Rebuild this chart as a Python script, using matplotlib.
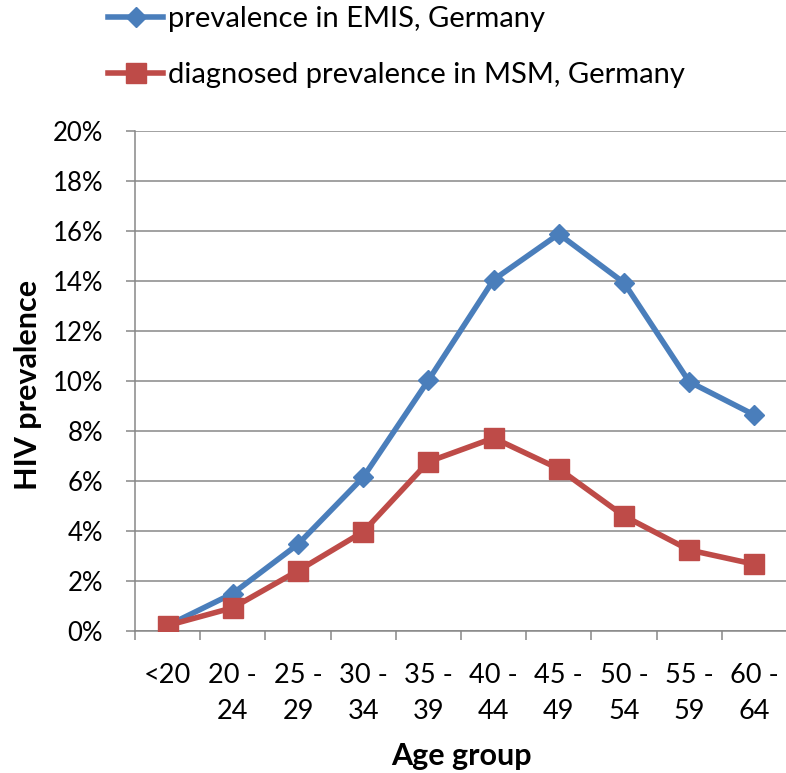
import matplotlib
matplotlib.use("Agg")
import matplotlib.pyplot as plt
from matplotlib.ticker import FuncFormatter

categories = ["<20", "20 -\n24", "25 -\n29", "30 -\n34", "35 -\n39", "40 -\n44",
              "45 -\n49", "50 -\n54", "55 -\n59", "60 -\n64"]
emis = [0.22, 1.5, 3.47, 6.15, 10.03, 14.05, 15.88, 13.93, 9.97, 8.64]
diagnosed = [0.22, 0.93, 2.41, 3.97, 6.77, 7.72, 6.49, 4.6, 3.24, 2.67]
series_names = ["prevalence in EMIS, Germany", "diagnosed prevalence in MSM, Germany"]
yticks = [0, 2, 4, 6, 8, 10, 12, 14, 16, 18, 20]

plt.rcParams['font.family'] = ['Lato', 'DejaVu Sans']

W, H = 786, 773
PX = 72 / 100  # points per pixel
fig = plt.figure(figsize=(W / 100, H / 100), dpi=100)
ax = fig.add_axes([135 / W, (H - 631) / H, (787 - 135) / W, 500 / H])

blue = "#4a7ebb"
red = "#be4b48"
grid_c = "#878787"
x = list(range(len(categories)))
ax.plot(x, emis, color=blue, lw=4, marker="D", ms=10.5, mfc=blue, mec=blue,
        label=series_names[0], solid_joinstyle="round", zorder=3)
ax.plot(x, diagnosed, color=red, lw=4, marker="s", ms=14.5, mfc=red, mec=red,
        label=series_names[1], solid_joinstyle="round", zorder=4)

ax.set_xlim(-0.5, len(categories) - 0.5)
ax.set_ylim(0, 20)
ax.set_yticks(yticks)
ax.yaxis.set_major_formatter(FuncFormatter(lambda v, p: f"{v:.0f}%"))
ax.set_xticks([i - 0.5 for i in range(len(categories) + 1)], minor=False)
ax.set_xticklabels([])
ax.set_xticks(x, minor=True)
ax.set_xticklabels(categories, minor=True, fontsize=19.5, linespacing=1.55,
                   multialignment="center")
ax.tick_params(axis="x", which="major", length=9 * PX, color=grid_c, width=1.1)
ax.tick_params(axis="x", which="minor", length=0, pad=32 * PX)
ax.tick_params(axis="y", length=9 * PX, color=grid_c, width=1.1, labelsize=18.5,
               pad=23 * PX)

ax.grid(axis="y", color=grid_c, lw=1.1)
ax.set_axisbelow(True)
for s in ["top", "right"]:
    ax.spines[s].set_visible(False)
for s in ["left", "bottom"]:
    ax.spines[s].set_color(grid_c)
    ax.spines[s].set_linewidth(1.1)

ax.set_ylabel("HIV prevalence", fontsize=22, fontweight="bold")
ax.yaxis.set_label_coords((42 - 135) / 652, (631 - 385) / 500)
ax.set_xlabel("Age group", fontsize=22, fontweight="bold")
ax.xaxis.set_label_coords(0.5, (631 - 742) / 500)

leg = fig.legend(loc="upper left", bbox_to_anchor=(108 / W, 1 - 6 / H), frameon=False,
                 fontsize=21, handlelength=1.9, handletextpad=0.15, labelspacing=1.03,
                 borderaxespad=0, borderpad=0)
fig.savefig("out.png", dpi=100)
